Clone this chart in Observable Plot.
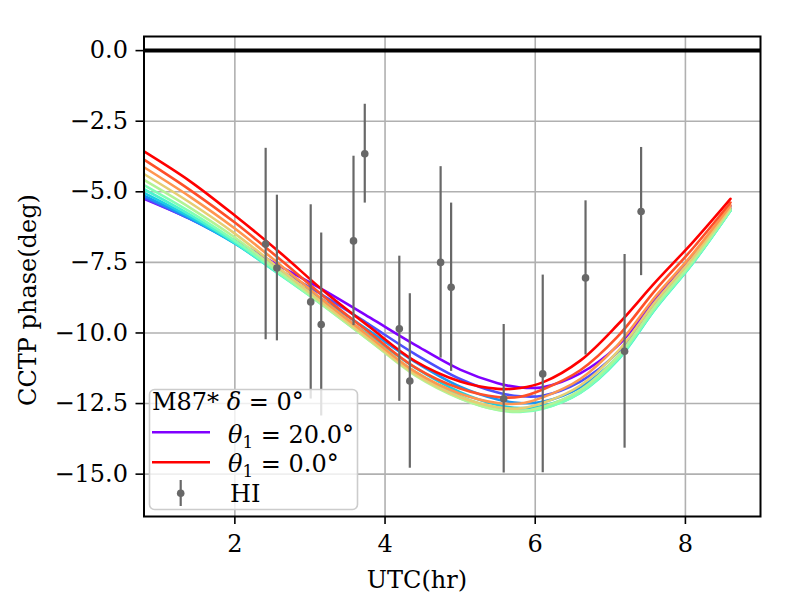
<!DOCTYPE html>
<html>
<head>
<meta charset="utf-8">
<script src="https://cdn.jsdelivr.net/npm/d3@7"></script>
<script src="https://cdn.jsdelivr.net/npm/@observablehq/plot@0.6"></script>
<style>
  html, body { margin: 0; padding: 0; background: white; }
  #chart { width: 800px; height: 600px; }
</style>
</head>
<body>
<div id="chart"></div>
<script>
// ---------- data ----------
const thetas = [20, 18, 16, 14, 12, 10, 8, 6, 4, 2, 0];
const curveUTC = [0.79, 1.4, 2.0, 2.6, 3.2, 3.8, 4.4, 5.0, 5.5, 5.8, 6.1, 6.6, 7.1, 7.6, 8.1, 8.6];
const phaseTheta20 = [-5.25, -5.95, -6.73, -7.63, -8.51, -9.46, -10.42, -11.30, -11.78, -11.93, -11.92, -11.43, -10.45, -8.80, -7.23, -5.50];
const phaseTheta18 = [-5.21, -5.96, -6.80, -7.77, -8.71, -9.72, -10.75, -11.63, -12.11, -12.24, -12.22, -11.72, -10.68, -8.96, -7.36, -5.58];
const phaseTheta16 = [-5.14, -5.94, -6.83, -7.87, -8.87, -9.94, -11.02, -11.90, -12.36, -12.48, -12.44, -11.93, -10.84, -9.07, -7.46, -5.63];
const phaseTheta14 = [-5.04, -5.89, -6.83, -7.92, -8.98, -10.10, -11.23, -12.10, -12.55, -12.66, -12.59, -12.06, -10.93, -9.13, -7.51, -5.66];
const phaseTheta12 = [-4.91, -5.81, -6.80, -7.94, -9.05, -10.22, -11.38, -12.24, -12.68, -12.76, -12.67, -12.12, -10.96, -9.15, -7.53, -5.67];
const phaseTheta10 = [-4.76, -5.70, -6.73, -7.91, -9.08, -10.28, -11.47, -12.31, -12.73, -12.80, -12.68, -12.11, -10.92, -9.11, -7.50, -5.66];
const phaseTheta8  = [-4.58, -5.56, -6.62, -7.84, -9.06, -10.28, -11.50, -12.32, -12.72, -12.77, -12.62, -12.02, -10.82, -9.03, -7.44, -5.62];
const phaseTheta6  = [-4.37, -5.38, -6.48, -7.73, -9.00, -10.24, -11.46, -12.27, -12.63, -12.67, -12.48, -11.86, -10.65, -8.89, -7.33, -5.56];
const phaseTheta4  = [-4.13, -5.17, -6.30, -7.58, -8.89, -10.14, -11.37, -12.15, -12.48, -12.50, -12.28, -11.63, -10.42, -8.71, -7.19, -5.48];
const phaseTheta2  = [-3.86, -4.93, -6.09, -7.39, -8.74, -10.00, -11.22, -11.97, -12.27, -12.26, -12.00, -11.32, -10.12, -8.48, -7.00, -5.38];
const phaseTheta0  = [-3.57, -4.62, -5.84, -7.15, -8.55, -9.80, -11.00, -11.72, -11.98, -11.95, -11.75, -10.98, -9.70, -8.20, -6.78, -5.25];
const curvePhases = [phaseTheta20, phaseTheta18, phaseTheta16, phaseTheta14, phaseTheta12, phaseTheta10,
                     phaseTheta8, phaseTheta6, phaseTheta4, phaseTheta2, phaseTheta0];

const hiUTC   = [2.41, 2.56, 3.01, 3.15, 3.58, 3.73, 4.19, 4.33, 4.74, 4.88, 5.58, 6.10, 6.67, 7.19, 7.41];
const hiPhase = [-6.85, -7.70, -8.90, -9.70, -6.74, -3.65, -9.85, -11.70, -7.50, -8.38, -12.33, -11.45, -8.05, -10.65, -5.70];
const hiErr   = [3.39, 2.58, 3.44, 3.24, 3.00, 1.75, 2.57, 3.09, 3.39, 2.98, 2.63, 3.50, 2.73, 3.43, 2.27];

const xTicks = [2, 4, 6, 8];
const yTicks = [0, -2.5, -5, -7.5, -10, -12.5, -15];

// styles (matplotlib "rainbow" samples)
const curveColors = ["#8000ff", "#4d4ffc", "#1996f3", "#1acee3", "#4df3ce", "#80ffb4",
                     "#b3f396", "#e6ce74", "#ff964f", "#ff4f28", "#ff0000"];
const grayPts = "#686868";
const FONT = "'DejaVu Serif', 'Liberation Serif', serif";
const FS = 24;

// ---------- tables ----------
const curveRows = [];
thetas.forEach((th, k) => {
  curvePhases[k].forEach((v, i) => curveRows.push({utc: curveUTC[i], phase: v, theta: th}));
});
const hiRows = hiUTC.map((u, i) => ({utc: u, phase: hiPhase[i], err: hiErr[i]}));

// ---------- plot ----------
const chart = Plot.plot({
  width: 800,
  height: 600,
  marginLeft: 143.5,
  marginRight: 40,
  marginTop: 36,
  marginBottom: 84,
  style: {fontFamily: FONT, fontSize: FS + "px", background: "white", color: "black"},
  x: {domain: [0.79, 9.0]},
  y: {domain: [-16.5, 0.5]},
  color: {type: "ordinal", domain: thetas, range: curveColors},
  marks: [
    Plot.gridX(xTicks, {stroke: "#b0b0b0", strokeOpacity: 1, strokeWidth: 1.6}),
    Plot.gridY(yTicks, {stroke: "#b0b0b0", strokeOpacity: 1, strokeWidth: 1.6}),
    Plot.ruleY([0], {stroke: "black", strokeWidth: 4}),
    Plot.line(curveRows, {x: "utc", y: "phase", z: "theta", stroke: "theta",
      curve: "catmull-rom", strokeWidth: 2.6, clip: true}),
    Plot.ruleX(hiRows, {x: "utc", y1: d => d.phase - d.err, y2: d => d.phase + d.err,
      stroke: grayPts, strokeWidth: 2.2}),
    Plot.dot(hiRows, {x: "utc", y: "phase", r: 3.8, fill: grayPts, stroke: null}),
    Plot.frame({stroke: "black", strokeWidth: 2}),
    Plot.axisX({ticks: xTicks, tickFormat: d3.format("d"), tickSize: 8, tickPadding: 10,
      fontSize: FS, label: null, strokeWidth: 1.6}),
    Plot.axisY({ticks: yTicks, tickFormat: d3.format(".1f"), tickSize: 8, tickPadding: 8,
      fontSize: FS, label: null, strokeWidth: 1.6})
  ]
});

document.getElementById("chart").appendChild(chart);

// ---------- axis labels & legend ----------
const svg = d3.select(chart);
svg.append("text")
  .attr("x", 417).attr("y", 588)
  .attr("text-anchor", "middle")
  .attr("font-family", FONT).attr("font-size", FS)
  .attr("fill", "black")
  .text("UTC(hr)");
svg.append("text")
  .attr("transform", "translate(36,300) rotate(-90)")
  .attr("text-anchor", "middle")
  .attr("font-family", FONT).attr("font-size", FS)
  .attr("fill", "black")
  .text("CCTP phase(deg)");

const lg = svg.append("g")
  .attr("font-family", FONT).attr("font-size", FS)
  .attr("fill", "black").attr("text-anchor", "start");
lg.append("rect")
  .attr("x", 149.5).attr("y", 389.5).attr("width", 208).attr("height", 120)
  .attr("rx", 5).attr("ry", 5)
  .attr("fill", "white").attr("fill-opacity", 0.8)
  .attr("stroke", "#cccccc").attr("stroke-width", 1.6);

const t0 = lg.append("text").attr("x", 152).attr("y", 410).attr("text-anchor", "start");
t0.append("tspan").text("M87* ");
t0.append("tspan").attr("font-style", "italic").text("δ");
t0.append("tspan").text(" = 0°");

function thetaLabel(y, val) {
  const t = lg.append("text").attr("x", 228).attr("y", y).attr("text-anchor", "start");
  t.append("tspan").attr("font-style", "italic").text("θ");
  t.append("tspan").attr("font-size", FS * 0.7).attr("dy", 5).text("1");
  t.append("tspan").attr("dy", -5).text(" = " + val + "°");
}
lg.append("line").attr("x1", 152).attr("x2", 210).attr("y1", 432.3).attr("y2", 432.3)
  .attr("stroke", curveColors[0]).attr("stroke-width", 2.6);
thetaLabel(443, "20.0");
lg.append("line").attr("x1", 152).attr("x2", 210).attr("y1", 462.3).attr("y2", 462.3)
  .attr("stroke", curveColors[curveColors.length - 1]).attr("stroke-width", 2.6);
thetaLabel(472, "0.0");
lg.append("line").attr("x1", 180.7).attr("x2", 180.7).attr("y1", 480).attr("y2", 506)
  .attr("stroke", grayPts).attr("stroke-width", 2.2);
lg.append("circle").attr("cx", 180.7).attr("cy", 493.3).attr("r", 3.8).attr("fill", grayPts);
lg.append("text").attr("x", 230).attr("y", 502).attr("text-anchor", "start").text("HI");
</script>
</body>
</html>
